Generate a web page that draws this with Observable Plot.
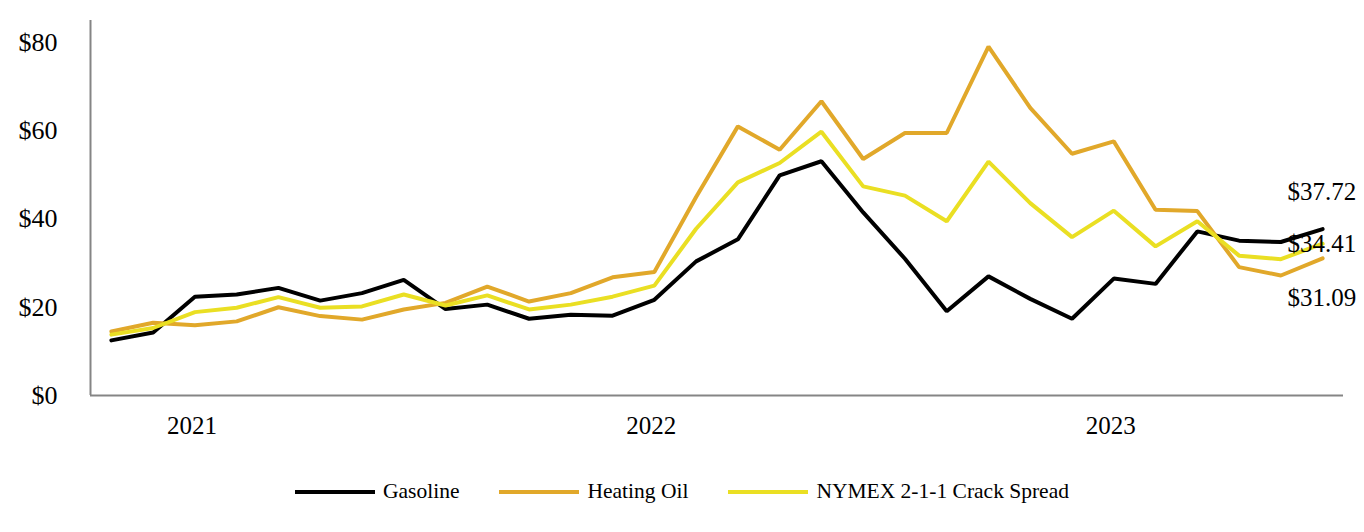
<!DOCTYPE html>
<html>
<head>
<meta charset="utf-8">
<script src="https://cdn.jsdelivr.net/npm/d3@7"></script>
<script src="https://cdn.jsdelivr.net/npm/@observablehq/plot@0.6"></script>
<style>
  html, body { margin: 0; padding: 0; background: #fff; }
  #chart { width: 1364px; }
  .legend { display: flex; justify-content: center; align-items: center; margin-top: 29px;
    font-family: "Liberation Serif", "Times New Roman", serif; font-size: 21.5px; color: #000; }
  .legend .item { display: flex; align-items: center; margin: 0 20px; }
  .legend .sw { width: 80px; height: 4px; margin-right: 8px; }
</style>
</head>
<body>
<div id="chart"></div>
<script>
// ---- data ----
const gasoline = [12.5, 14.3, 22.4, 22.9, 24.4, 21.5, 23.2, 26.2, 19.6, 20.6,
  17.4, 18.3, 18.1, 21.7, 30.4, 35.4, 49.9, 53.1, 41.5, 31.0,
  19.1, 27.0, 21.9, 17.4, 26.5, 25.3, 37.2, 35.1, 34.8, 37.72];
const heatingOil = [14.5, 16.5, 15.9, 16.8, 20.0, 18.0, 17.2, 19.5, 21.0, 24.7,
  21.3, 23.2, 26.8, 28.0, 45.0, 61.0, 55.7, 66.7, 53.6, 59.5,
  59.5, 79.1, 65.2, 54.8, 57.6, 42.1, 41.8, 29.1, 27.2, 31.09];
const crackSpread = [13.8, 15.3, 18.9, 19.9, 22.3, 19.9, 20.2, 22.9, 20.4, 22.7,
  19.5, 20.6, 22.4, 24.9, 37.8, 48.3, 52.7, 59.8, 47.4, 45.3,
  39.5, 53.0, 43.6, 35.9, 41.9, 33.8, 39.5, 31.7, 30.9, 34.41];
const seriesNames = ["Gasoline", "Heating Oil", "NYMEX 2-1-1 Crack Spread"];
const seriesColors = ["#000000", "#E1A82A", "#EADF23"];
const yearLabels = ["2021", "2022", "2023"];
const yearTickIndex = [2, 13, 24];
const yTicks = [0, 20, 40, 60, 80];

// ---- build ----
const allSeries = [gasoline, heatingOil, crackSpread];
const rows = allSeries.flatMap((vals, s) => vals.map((v, i) => ({i, v, s: seriesNames[s]})));
const lastRows = allSeries.map((vals, s) => ({i: vals.length - 1, v: vals[vals.length - 1], s: seriesNames[s]}));
const labelDy = {"Gasoline": -37, "Heating Oil": 40, "NYMEX 2-1-1 Crack Spread": 0};
const serif = "Liberation Serif, Times New Roman, serif";

const chart = Plot.plot({
  width: 1364,
  height: 450,
  marginTop: 20,
  marginBottom: 55,
  marginLeft: 90,
  marginRight: 21,
  style: {fontFamily: serif, background: "#fff", color: "#000"},
  x: {domain: [-0.5, gasoline.length - 0.5], axis: null},
  y: {domain: [0, 85], axis: null},
  color: {domain: seriesNames, range: seriesColors},
  marks: [
    Plot.axisY({ticks: yTicks, tickFormat: d => "$" + d, tickSize: 0, tickPadding: 33,
      fontSize: 26, label: null}),
    Plot.axisX({ticks: yearTickIndex, tickFormat: (d, k) => yearLabels[k], tickSize: 0,
      tickPadding: 21, fontSize: 25, label: null, dx: -3}),
    Plot.ruleX([-0.5], {stroke: "#858585", strokeWidth: 2}),
    Plot.ruleY([0], {stroke: "#858585", strokeWidth: 2}),
    Plot.line(rows, {x: "i", y: "v", z: "s", stroke: "s", strokeWidth: 4, strokeLinejoin: "miter"}),
    ...lastRows.map(r => Plot.text([r], {x: "i", y: "v", text: d => "$" + d.v.toFixed(2),
      textAnchor: "start", dx: -35, dy: labelDy[r.s], fontSize: 25, fill: "#000"}))
  ]
});
document.getElementById("chart").appendChild(chart);

// legend
const legend = document.createElement("div");
legend.className = "legend";
seriesNames.forEach((n, k) => {
  const it = document.createElement("div");
  it.className = "item";
  const sw = document.createElement("span");
  sw.className = "sw";
  sw.style.background = seriesColors[k];
  const t = document.createElement("span");
  t.textContent = n;
  it.appendChild(sw); it.appendChild(t);
  legend.appendChild(it);
});
document.body.appendChild(legend);
</script>
</body>
</html>
